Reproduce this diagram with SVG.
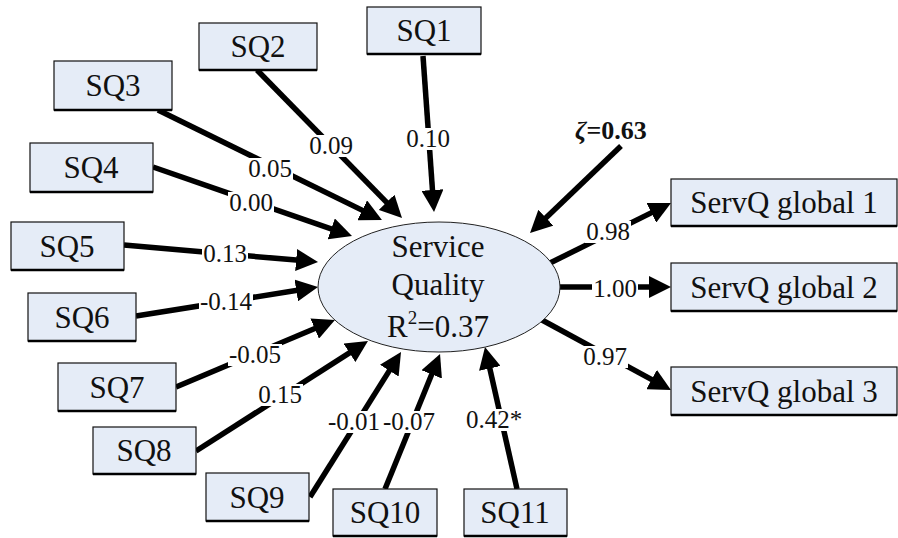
<svg xmlns="http://www.w3.org/2000/svg" width="898" height="538" viewBox="0 0 898 538">
<defs>
<marker id="ah" markerUnits="userSpaceOnUse" markerWidth="22" markerHeight="22" refX="6" refY="11" orient="auto">
<path d="M0,0 L22,11 L0,22 z" fill="#000"/>
</marker>
<style>
.box{fill:#e5ecf7;stroke:#111;stroke-width:1.2}
.sh{stroke:#000;stroke-width:2.5}
.bg{fill:#fff;stroke:none}
</style>
</defs>
<rect width="898" height="538" fill="#fff"/>
<g id="connectors" stroke="#000" stroke-width="5.5" marker-end="url(#ah)">
<line x1="423" y1="56" x2="432.9" y2="196"/>
<line x1="257" y1="70" x2="390.8" y2="206.6"/>
<line x1="158" y1="110" x2="367.6" y2="212.9"/>
<line x1="153" y1="167" x2="336.9" y2="230.8"/>
<line x1="124" y1="245" x2="302.1" y2="260.6"/>
<line x1="136" y1="316" x2="302.2" y2="289.5"/>
<line x1="176" y1="387" x2="320.2" y2="326.2"/>
<line x1="196" y1="451" x2="354.5" y2="349.6"/>
<line x1="310" y1="497" x2="392.5" y2="365.6"/>
<line x1="385" y1="489" x2="434" y2="368.8"/>
<line x1="517" y1="489" x2="488.5" y2="362.6"/>
<line x1="621" y1="146" x2="541.6" y2="221.9"/>
<line x1="550" y1="263" x2="656.7" y2="210.1"/>
<line x1="560" y1="287" x2="655" y2="287"/>
<line x1="542" y1="320" x2="656.9" y2="382.4"/>
</g>
<g id="label-backgrounds" class="bg" fill="#fff">
<rect x="405" y="128" width="46" height="22"/>
<rect x="308" y="135" width="46" height="22"/>
<rect x="247" y="158" width="46" height="22"/>
<rect x="228" y="192" width="46" height="22"/>
<rect x="202" y="243" width="46" height="22"/>
<rect x="199" y="291" width="54" height="22"/>
<rect x="228" y="344" width="54" height="22"/>
<rect x="257" y="384" width="46" height="22"/>
<rect x="327" y="411" width="54" height="22"/>
<rect x="382" y="411" width="54" height="22"/>
<rect x="465" y="409" width="58" height="22"/>
<rect x="585" y="221" width="46" height="22"/>
<rect x="592" y="278" width="46" height="22"/>
<rect x="582" y="346" width="46" height="22"/>
</g>
<g id="labels" font-family="'Liberation Serif','Times New Roman',serif" font-size="25" fill="#111" text-anchor="middle">
<text x="428" y="147">0.10</text>
<text x="331" y="154">0.09</text>
<text x="270" y="177">0.05</text>
<text x="251" y="211">0.00</text>
<text x="225" y="262">0.13</text>
<text x="226" y="310">-0.14</text>
<text x="255" y="363">-0.05</text>
<text x="280" y="403">0.15</text>
<text x="354" y="430">-0.01</text>
<text x="409" y="430">-0.07</text>
<text x="494" y="428">0.42*</text>
<text x="608" y="240">0.98</text>
<text x="615" y="297">1.00</text>
<text x="605" y="365">0.97</text>
<text x="575" y="139" font-size="26" font-weight="bold" text-anchor="start"><tspan font-style="italic">ζ</tspan>=0.63</text>
</g>
<g id="service-quality" font-family="'Liberation Serif','Times New Roman',serif" font-size="31" fill="#111" text-anchor="middle">
<ellipse cx="439" cy="287" rx="121" ry="65" fill="#e5ecf7" stroke="#222" stroke-width="1"/>
<text x="438" y="257">Service</text>
<text x="438" y="295">Quality</text>
<text x="438" y="337">R<tspan font-size="19" dy="-13">2</tspan><tspan dy="13">=0.37</tspan></text>
</g>
<g id="nodes" font-family="'Liberation Serif','Times New Roman',serif" font-size="31" fill="#111" text-anchor="middle">
<g id="SQ1"><rect class="box" x="367" y="7" width="114" height="47"/><line class="sh" x1="367" y1="54" x2="481" y2="54"/><text x="424" y="41">SQ1</text></g>
<g id="SQ2"><rect class="box" x="199" y="23" width="118" height="47"/><line class="sh" x1="199" y1="70" x2="317" y2="70"/><text x="258" y="57">SQ2</text></g>
<g id="SQ3"><rect class="box" x="54" y="61" width="118" height="49"/><line class="sh" x1="54" y1="110" x2="172" y2="110"/><text x="113" y="96">SQ3</text></g>
<g id="SQ4"><rect class="box" x="30" y="143" width="123" height="49"/><line class="sh" x1="30" y1="192" x2="153" y2="192"/><text x="91" y="178">SQ4</text></g>
<g id="SQ5"><rect class="box" x="11" y="222" width="113" height="48"/><line class="sh" x1="11" y1="270" x2="124" y2="270"/><text x="67" y="257">SQ5</text></g>
<g id="SQ6"><rect class="box" x="28" y="293" width="108" height="48"/><line class="sh" x1="28" y1="341" x2="136" y2="341"/><text x="82" y="328">SQ6</text></g>
<g id="SQ7"><rect class="box" x="58" y="363" width="118" height="48"/><line class="sh" x1="58" y1="411" x2="176" y2="411"/><text x="117" y="398">SQ7</text></g>
<g id="SQ8"><rect class="box" x="93" y="427" width="103" height="47"/><line class="sh" x1="93" y1="474" x2="196" y2="474"/><text x="144" y="461">SQ8</text></g>
<g id="SQ9"><rect class="box" x="206" y="473" width="103" height="48"/><line class="sh" x1="206" y1="521" x2="309" y2="521"/><text x="257" y="508">SQ9</text></g>
<g id="SQ10"><rect class="box" x="333" y="489" width="104" height="47"/><line class="sh" x1="333" y1="536" x2="437" y2="536"/><text x="385" y="523">SQ10</text></g>
<g id="SQ11"><rect class="box" x="464" y="489" width="103" height="47"/><line class="sh" x1="464" y1="536" x2="567" y2="536"/><text x="515" y="523">SQ11</text></g>
<g id="ServQ-global-1"><rect class="box" x="671" y="179" width="226" height="47"/><line class="sh" x1="671" y1="226" x2="897" y2="226"/><text x="784" y="213">ServQ global 1</text></g>
<g id="ServQ-global-2"><rect class="box" x="671" y="263" width="226" height="48"/><line class="sh" x1="671" y1="311" x2="897" y2="311"/><text x="784" y="298">ServQ global 2</text></g>
<g id="ServQ-global-3"><rect class="box" x="671" y="367" width="226" height="48"/><line class="sh" x1="671" y1="415" x2="897" y2="415"/><text x="784" y="402">ServQ global 3</text></g>
</g>
</svg>
